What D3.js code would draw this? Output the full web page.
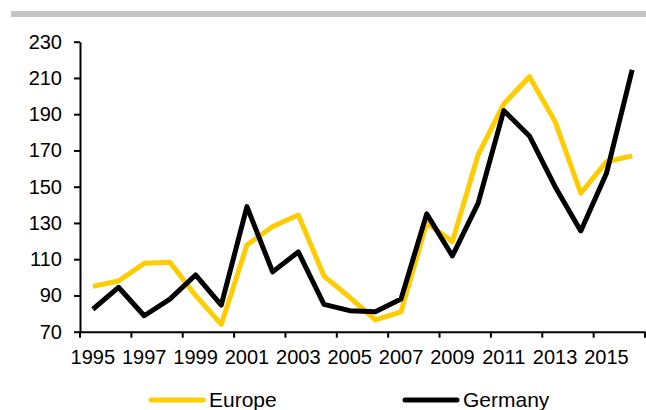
<html>
<head>
<style>
  body { margin: 0; background: #fff; font-family: "Liberation Sans", Arial, sans-serif; }
  svg text { font-family: "Liberation Sans", Arial, sans-serif; fill: #000; }
</style>
</head>
<body>
<div id="chart"></div>
<script src="https://d3js.org/d3.v7.min.js"></script>
<script>
var years = d3.range(1995, 2017);
var europe = [95, 98, 107.7, 108.3, 90, 74, 117.8, 128, 134.4, 100.7, 89, 76.5, 81,
              130, 119.7, 167.5, 195.6, 210.7, 185.9, 146.4, 163.8, 167];
var germany = [82.4, 94.5, 78.8, 88, 101.3, 84.7, 139, 103, 114, 85.1, 81.6, 81, 88,
               135, 111.8, 140.8, 192, 178, 150, 125.6, 157.4, 214.4];
var yTicks = [70, 90, 110, 130, 150, 170, 190, 210, 230];
var seriesNames = ['Europe', 'Germany'];
var colors = ['#FFCC00', '#000000'];

var width = 646, height = 410;
var plotLeft = 80, plotRight = 645, plotTop = 41.7, plotBottom = 331.7;

var svg = d3.select('#chart').append('svg')
    .attr('width', width)
    .attr('height', height);

// grey band at the top
svg.append('rect')
    .attr('x', 11).attr('y', 11)
    .attr('width', width - 11).attr('height', 6)
    .attr('fill', '#C4C4C4');

var x = d3.scaleBand().domain(years).range([plotLeft, plotRight]).padding(0);
var y = d3.scaleLinear().domain([70, 230]).range([plotBottom, plotTop]);

// y axis
var yAxis = d3.axisLeft(y).tickValues(yTicks).tickSize(6).tickSizeOuter(0);
var gy = svg.append('g')
    .attr('transform', 'translate(' + plotLeft + ',0)')
    .call(yAxis);
gy.select('.domain').attr('stroke', '#000').attr('stroke-width', 2);
gy.selectAll('.tick line').attr('stroke', '#000').attr('stroke-width', 2);
gy.selectAll('.tick text')
    .attr('x', -18)
    .style('font-size', '20px');

// x axis labels on odd years, ticks at band edges
var labelYears = years.filter(function(d, i) { return i % 2 === 0; });
var xAxis = d3.axisBottom(x).tickValues(labelYears).tickSize(0).tickSizeOuter(0);
var gx = svg.append('g')
    .attr('transform', 'translate(0,' + plotBottom + ')')
    .call(xAxis);
gx.select('.domain').attr('stroke', '#000').attr('stroke-width', 2);
gx.selectAll('.tick text')
    .attr('y', 18)
    .style('font-size', '20px');

var edges = labelYears.map(function(d) { return x(d); }).concat([plotRight]);
gx.selectAll('.edge')
    .data(edges)
    .enter()
    .append('line')
    .attr('class', 'edge')
    .attr('x1', function(d) { return d; })
    .attr('x2', function(d) { return d; })
    .attr('y1', 0)
    .attr('y2', 6)
    .attr('stroke', '#000')
    .attr('stroke-width', 2);

// lines
var line = d3.line()
    .x(function(d, i) { return x(years[i]) + x.bandwidth() / 2; })
    .y(function(d) { return y(d); });

[europe, germany].forEach(function(s, k) {
    svg.append('path')
        .datum(s)
        .attr('d', line)
        .attr('fill', 'none')
        .attr('stroke', colors[k])
        .attr('stroke-width', 5)
        .attr('stroke-linejoin', 'round');
});

// legend
var legendX = [151, 405];
seriesNames.forEach(function(name, k) {
    svg.append('line')
        .attr('x1', legendX[k]).attr('x2', legendX[k] + 52)
        .attr('y1', 400).attr('y2', 400)
        .attr('stroke', colors[k])
        .attr('stroke-width', 5)
        .attr('stroke-linecap', 'round');
    svg.append('text')
        .attr('x', legendX[k] + 58)
        .attr('y', 407)
        .style('font-size', '21px')
        .text(name);
});
</script>
</body>
</html>
